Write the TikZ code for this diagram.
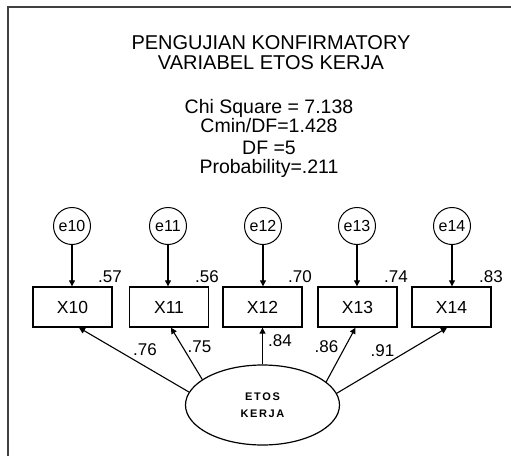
\documentclass[tikz,border=0pt]{standalone}
\usepackage{fontspec}
\setmainfont{Liberation Sans}
\usetikzlibrary{arrows.meta,shapes.geometric,calc}
\begin{document}
\begin{tikzpicture}[x=1pt,y=-1pt,
  txt/.style={inner sep=0pt, anchor=base, align=center},
  obs/.style={draw, line width=1.4pt, minimum width=79pt, minimum height=40pt, inner sep=0pt, font=\fontsize{17.5}{18}\selectfont},
  err/.style={draw, circle, line width=1pt, minimum size=37pt, inner sep=0pt, font=\fontsize{16}{16}\selectfont},
  lat/.style={draw, ellipse, line width=1.2pt, minimum width=154pt, minimum height=80pt, inner sep=0pt, align=center, font={\fontsize{11}{17}\selectfont\bfseries\addfontfeature{LetterSpace=15}}},
  coef/.style={inner sep=0pt, anchor=base, font=\fontsize{17}{17}\selectfont},
  arr/.style={line width=1.1pt, -{Triangle[length=6pt,width=6pt]}},
  frame/.style={line width=1.6pt, black!75}
]
\useasboundingbox (0,0) rectangle (511,455);
% frame
\coordinate (fbl) at (8,456);
\coordinate (ftl) at (8,7);
\coordinate (ftr) at (512,7);
\draw[frame] (fbl) -- (ftl) -- (ftr);
% title and statistics
\node[txt, font=\fontsize{20}{20}\selectfont] (title) at (271,69) {PENGUJIAN KONFIRMATORY\\VARIABEL ETOS KERJA};
\node[txt, font=\fontsize{19.5}{18}\selectfont] (stats) at (269,173.5) {Chi Square = 7.138\\Cmin/DF=1.428\\[3.5pt]DF =5\\[1.5pt]Probability=.211};
% error terms
\node[err] (e10) at (72,226) {e10};
\node[err] (e11) at (168,226) {e11};
\node[err] (e12) at (263,226) {e12};
\node[err] (e13) at (357,226) {e13};
\node[err] (e14) at (452,226) {e14};
% observed variables
\node[obs] (X10) at (72.5,307) {X10};
\node[obs] (X11) at (169,307) {X11};
\node[obs] (X12) at (262.5,307) {X12};
\node[obs] (X13) at (357.5,307) {X13};
\node[obs] (X14) at (451.5,307) {X14};
% latent
\node[lat] (E) at (262.5,405) {ETOS\\KERJA};
% error arrows
\draw[arr] (e10) -- (X10.north -| e10);
\draw[arr] (e11) -- (X11.north -| e11);
\draw[arr] (e12) -- (X12.north -| e12);
\draw[arr] (e13) -- (X13.north -| e13);
\draw[arr] (e14) -- (X14.north -| e14);
% loading arrows
\draw[arr] (E.170) -- ($(X10.south)+(6.5,0)$);
\draw[arr] (E.157) -- ($(X11.south)+(2,0)$);
\draw[arr] (E.90) -- (X12.south);
\draw[arr] (E.20) -- ($(X13.south)+(-2,0)$);
\draw[arr] (E.9) -- ($(X14.south)+(-4.5,0)$);
% squared multiple correlations
\node[coef] (r10) at (110,282) {.57};
\node[coef] (r11) at (207,282) {.56};
\node[coef] (r12) at (300,282) {.70};
\node[coef] (r13) at (396,282) {.74};
\node[coef] (r14) at (491,282) {.83};
% loadings
\node[coef] (p10) at (145,355) {.76};
\node[coef] (p11) at (199.5,352) {.75};
\node[coef] (p12) at (280,346) {.84};
\node[coef] (p13) at (326.5,352) {.86};
\node[coef] (p14) at (382.5,356) {.91};
\end{tikzpicture}
\end{document}
